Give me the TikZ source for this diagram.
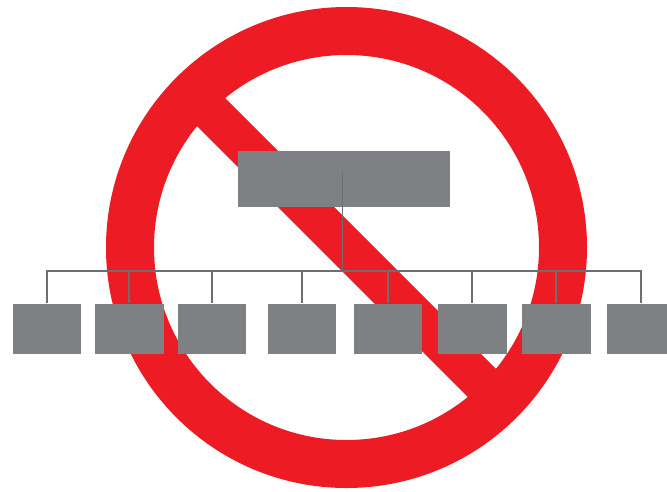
\documentclass[tikz,border=0pt]{standalone}
\definecolor{banred}{HTML}{ED1C24}
\definecolor{boxgray}{HTML}{7E8083}
\definecolor{linegray}{HTML}{6D6E71}
\tikzset{
  topbox/.style={fill=boxgray,draw=none,inner sep=0pt,minimum width=211.5pt,minimum height=56pt},
  leafbox/.style={fill=boxgray,draw=none,inner sep=0pt,minimum width=68.5pt,minimum height=50.5pt},
  orgline/.style={draw=linegray,line width=1.6pt},
}
\begin{document}
\begin{tikzpicture}[x=1pt,y=-1pt]
\useasboundingbox (0,0) rectangle (667,491);
\fill[white] (0,0) rectangle (667,491);
% prohibition sign
\fill[banred,even odd rule] (346.5,247.5) circle[radius=240.5pt] (346.5,247.5) circle[radius=192.5pt];
\begin{scope}
  \clip (346.5,247.5) circle[radius=200pt];
  \fill[banred] (219.1,91.9) -- (190.9,120.1) -- (473.9,403.1) -- (502.1,374.9) -- cycle;
\end{scope}
% boxes
\node[topbox] (top) at (343.75,179) {};
\node[leafbox] (a) at (46.75,328.75) {};
\node[leafbox] (b) at (129.25,328.75) {};
\node[leafbox] (c) at (211.75,328.75) {};
\node[leafbox] (d) at (301.75,328.75) {};
\node[leafbox] (e) at (387.75,328.75) {};
\node[leafbox] (f) at (472.25,328.75) {};
\node[leafbox] (g) at (556.25,328.75) {};
\node[leafbox] (h) at (640.75,328.75) {};
% connectors
\coordinate (hubtop) at (342.5,172);
\coordinate (hub) at (342.5,271);
\draw[orgline] (hubtop) -- (hub);
\draw[orgline,line join=miter] (a.north) -- (a.north |- hub) -- (h.north |- hub) -- (h.north);
\foreach \n in {b,c,d,e,f,g} \draw[orgline] (\n.north |- hub) -- (\n.north);
\end{tikzpicture}
\end{document}
